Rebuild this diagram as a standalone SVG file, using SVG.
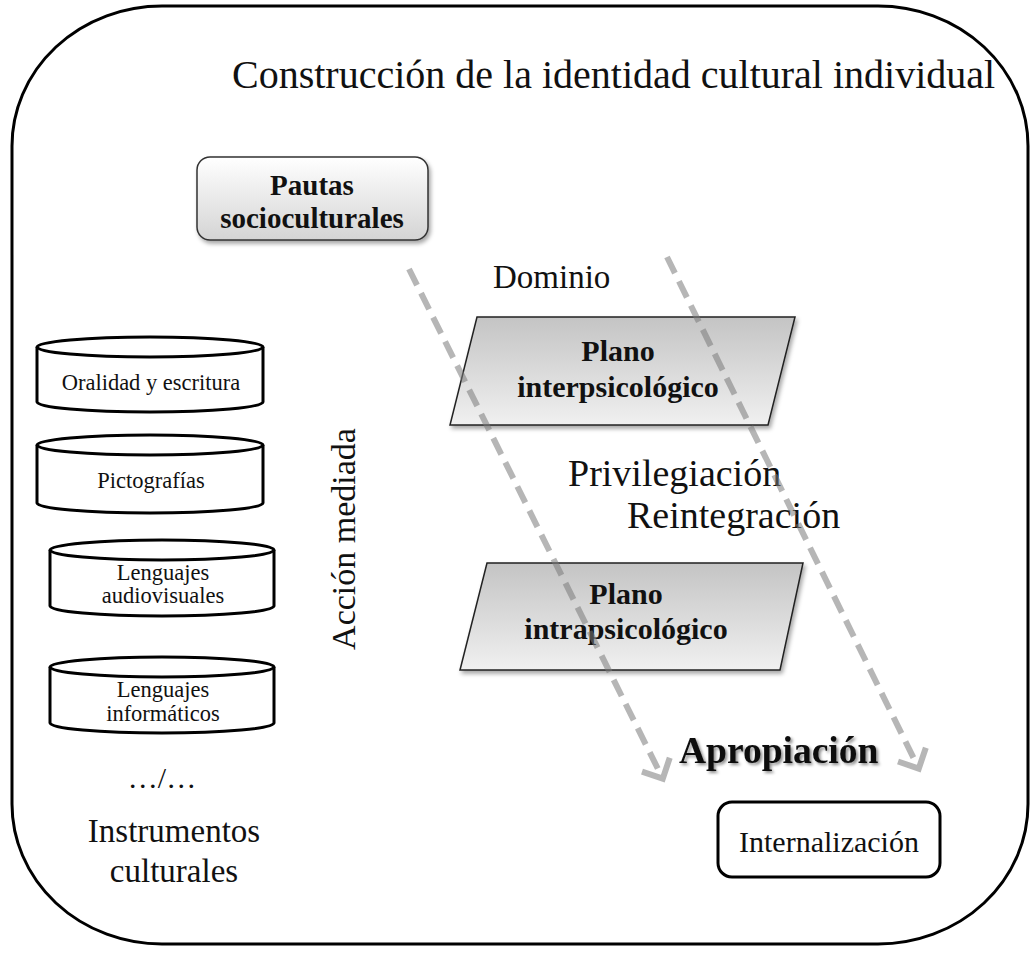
<svg xmlns="http://www.w3.org/2000/svg" width="1034" height="953" viewBox="0 0 1034 953">
  <style>
    .serif { font-family: "Liberation Serif", "Times New Roman", serif; fill: #111; }
    .bold { font-weight: bold; }
    .mid { text-anchor: middle; }
    .cyl { fill: #fff; stroke: #000; stroke-width: 3; }
    .plane { fill: url(#planeFill); stroke: #222; stroke-width: 1.5; filter: url(#softShadow); }
    .flow { fill: none; stroke: #7a7a7a; stroke-opacity: 0.55; stroke-width: 6; stroke-dasharray: 18 9; }
  </style>
  <defs>
    <linearGradient id="pautaFill" x1="0" y1="0" x2="0" y2="1">
      <stop offset="0" stop-color="#ffffff"/>
      <stop offset="1" stop-color="#d4d4d4"/>
    </linearGradient>
    <linearGradient id="planeFill" x1="0" y1="0" x2="0" y2="1">
      <stop offset="0" stop-color="#c4c4c4"/>
      <stop offset="1" stop-color="#f0f0f0"/>
    </linearGradient>
    <filter id="softShadow" x="-10%" y="-10%" width="130%" height="140%">
      <feDropShadow dx="2" dy="3" stdDeviation="2" flood-color="#000" flood-opacity="0.35"/>
    </filter>
    <filter id="textShadow" x="-10%" y="-30%" width="130%" height="170%">
      <feDropShadow dx="2" dy="2" stdDeviation="1.6" flood-color="#000" flood-opacity="0.45"/>
    </filter>
    <marker id="chevron" viewBox="0 0 36 36" markerWidth="36" markerHeight="36" refX="24" refY="18" orient="auto" markerUnits="userSpaceOnUse" overflow="visible">
      <path d="M12.5,2.5 L28,18 L12.5,33.5" fill="none" stroke="#7a7a7a" stroke-opacity="0.55" stroke-width="6"/>
    </marker>
  </defs>

  <rect width="1034" height="953" fill="#fff"/>

  <!-- outer frame -->
  <g id="frame">
    <rect x="12" y="6" width="1016" height="938" rx="150" ry="140" fill="none" stroke="#000" stroke-width="3"/>
    <text class="serif" x="232" y="88" font-size="40">Construcción de la identidad cultural individual</text>
  </g>

  <g id="pautas">
    <rect x="197" y="157" width="231" height="83" rx="13" fill="url(#pautaFill)" stroke="#333" stroke-width="1.5" filter="url(#softShadow)"/>
    <text class="serif bold mid" x="312" y="195" font-size="29">Pautas</text>
    <text class="serif bold mid" x="312" y="228" font-size="29">socioculturales</text>
  </g>

  <!-- cultural instruments -->
  <g id="oralidad">
    <path class="cyl" d="M37,347 V402 A113,10 0 0 0 263,402 V347"/>
    <ellipse class="cyl" cx="150" cy="347" rx="113" ry="10"/>
    <text class="serif mid" x="151" y="390" font-size="22.5">Oralidad y escritura</text>
  </g>
  <g id="pictografias">
    <path class="cyl" d="M37,445 V503 A113,10 0 0 0 263,503 V445"/>
    <ellipse class="cyl" cx="150" cy="445" rx="113" ry="10"/>
    <text class="serif mid" x="151" y="488" font-size="22.5">Pictografías</text>
  </g>
  <g id="audiovisuales">
    <path class="cyl" d="M50,550 V606 A112,10 0 0 0 274,606 V550"/>
    <ellipse class="cyl" cx="162" cy="550" rx="112" ry="10"/>
    <text class="serif mid" x="163" y="580" font-size="22.5">Lenguajes</text>
    <text class="serif mid" x="163" y="603" font-size="22.5">audiovisuales</text>
  </g>
  <g id="informaticos">
    <path class="cyl" d="M50,667 V723 A112,10 0 0 0 274,723 V667"/>
    <ellipse class="cyl" cx="162" cy="667" rx="112" ry="10"/>
    <text class="serif mid" x="163" y="697" font-size="22.5">Lenguajes</text>
    <text class="serif mid" x="163" y="721" font-size="22.5">informáticos</text>
  </g>
  <g id="instrumentos">
    <text class="serif mid" x="162" y="788" font-size="30">…/…</text>
    <text class="serif mid" x="174" y="842" font-size="33">Instrumentos</text>
    <text class="serif mid" x="174" y="882" font-size="33">culturales</text>
  </g>

  <g id="accion">
    <text class="serif mid" transform="translate(355,539) rotate(-90)" font-size="34">Acción mediada</text>
  </g>

  <g id="dominio">
    <text class="serif" x="493" y="288" font-size="33">Dominio</text>
  </g>

  <g id="interpsicologico">
    <polygon class="plane" points="477,317 795,317 768,425 450,425"/>
    <text class="serif bold mid" x="618" y="361" font-size="30">Plano</text>
    <text class="serif bold mid" x="618" y="397" font-size="30">interpsicológico</text>
  </g>

  <g id="procesos">
    <text class="serif" x="568" y="486" font-size="38">Privilegiación</text>
    <text class="serif" x="627" y="528" font-size="38">Reintegración</text>
  </g>

  <g id="intrapsicologico">
    <polygon class="plane" points="487,563 803,563 780,670 460,670"/>
    <text class="serif bold mid" x="626" y="604" font-size="30">Plano</text>
    <text class="serif bold mid" x="626" y="639" font-size="30">intrapsicológico</text>
  </g>

  <g id="apropiacion">
    <text class="serif bold" x="679" y="763" font-size="37.5" filter="url(#textShadow)">Apropiación</text>
  </g>

  <g id="internalizacion">
    <rect x="718" y="802" width="222" height="75" rx="14" fill="#fff" stroke="#000" stroke-width="3"/>
    <text class="serif mid" x="829" y="852" font-size="30">Internalización</text>
  </g>

  <!-- dashed flow connectors -->
  <g id="connectors">
    <line class="flow" x1="409" y1="269" x2="661" y2="775" marker-end="url(#chevron)"/>
    <line class="flow" x1="667" y1="257" x2="917" y2="765" marker-end="url(#chevron)"/>
  </g>
</svg>
